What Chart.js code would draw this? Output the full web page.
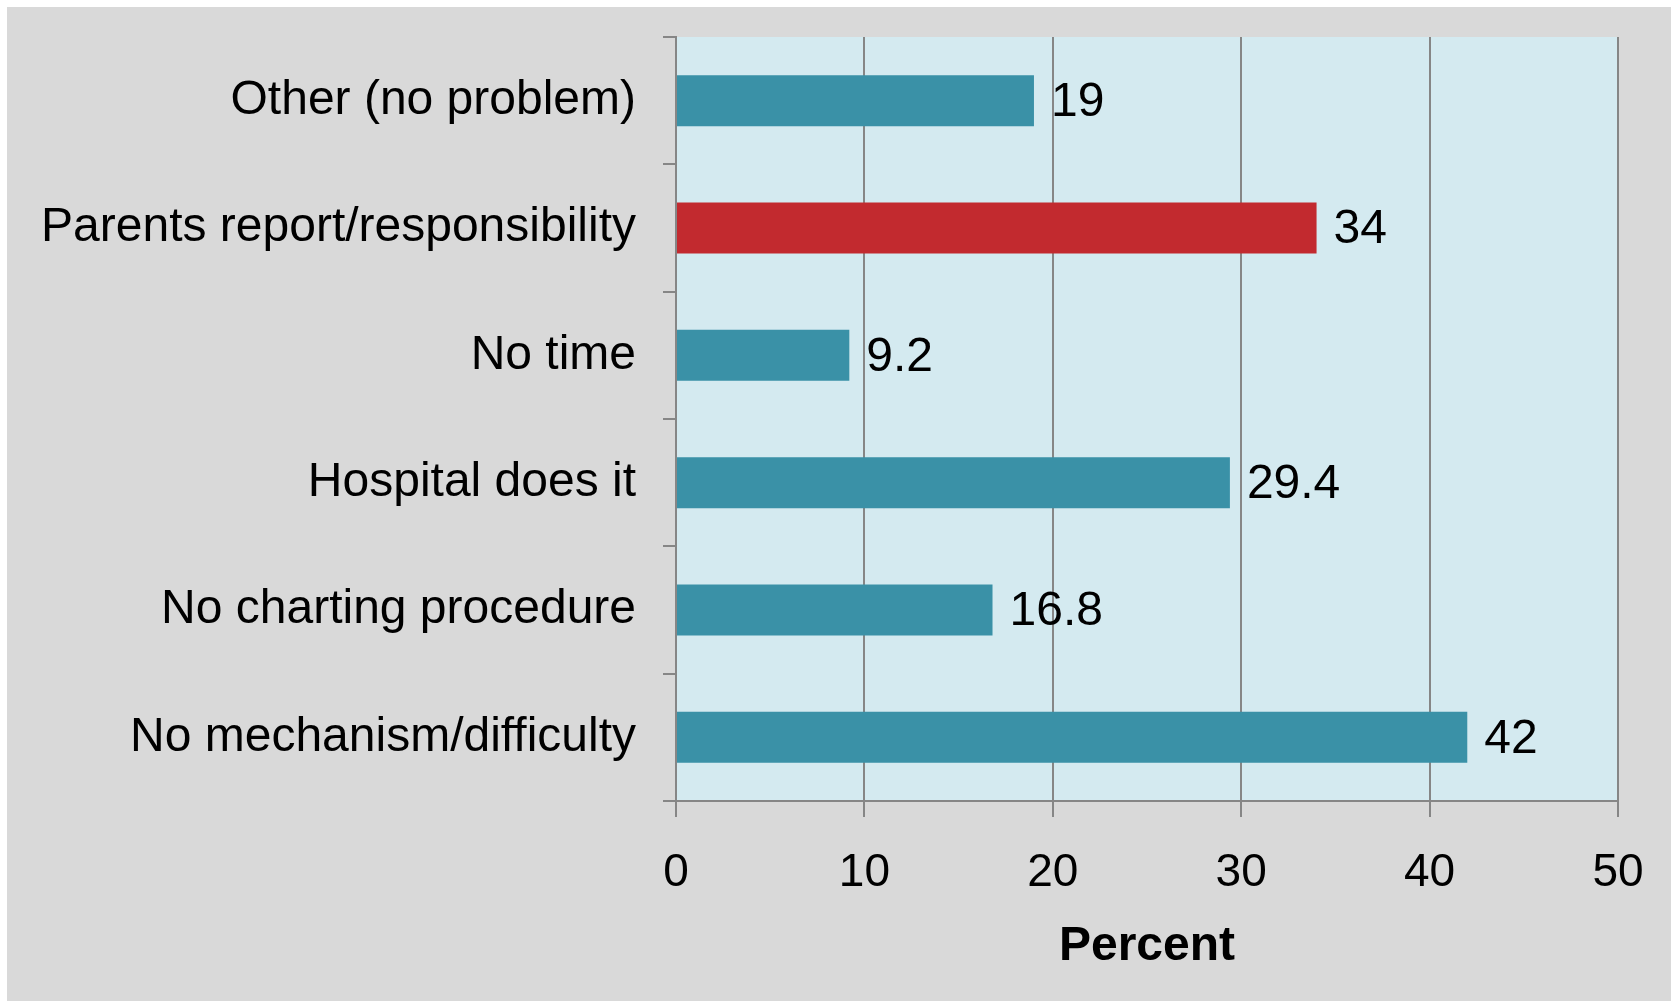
<!DOCTYPE html>
<html>
<head>
<meta charset="utf-8">
<script src="https://cdn.jsdelivr.net/npm/chart.js@4/dist/chart.umd.min.js"></script>
<style>
  html, body { margin: 0; padding: 0; background: #ffffff; }
  #wrap { position: absolute; left: 7px; top: 7px; width: 1664px; height: 994px; background: #d9d9d9; }
</style>
</head>
<body>
<div id="wrap"><canvas id="barChart" width="1664" height="994"></canvas></div>
<script>
const categories = [
    'Other (no problem)',
    'Parents report/responsibility',
    'No time',
    'Hospital does it',
    'No charting procedure',
    'No mechanism/difficulty'
];
const percentValues = [19, 34, 9.2, 29.4, 16.8, 42];
const highlightIndex = 1;
const xTicks = [0, 10, 20, 30, 40, 50];

document.addEventListener("DOMContentLoaded", function () {

    const canvas = document.getElementById('barChart');
    const ctx = canvas.getContext('2d');

    const barColors = percentValues.map((v, i) => i === highlightIndex ? '#c22a2f' : '#3a91a7');

    // light blue plot background
    const plotBg = {
        id: 'plotBg',
        beforeDraw(chart) {
            const a = chart.chartArea;
            chart.ctx.save();
            chart.ctx.fillStyle = '#d4eaf0';
            chart.ctx.fillRect(a.left, a.top, a.right - a.left, a.bottom - a.top);
            chart.ctx.restore();
        }
    };

    // value labels at the end of each bar
    const valueLabels = {
        id: 'valueLabels',
        afterDatasetsDraw(chart) {
            const c = chart.ctx;
            const meta = chart.getDatasetMeta(0);
            c.save();
            c.font = '48px "Liberation Sans", Arial, sans-serif';
            c.fillStyle = '#000000';
            c.textAlign = 'left';
            c.textBaseline = 'middle';
            meta.data.forEach((bar, i) => {
                c.fillText(String(percentValues[i]), bar.x + 17, bar.y + 2);
            });
            c.restore();
        }
    };

    new Chart(ctx, {
        type: 'bar',
        data: {
            labels: categories,
            datasets: [{
                data: percentValues,
                backgroundColor: barColors,
                borderWidth: 0,
                barPercentage: 0.4,
                categoryPercentage: 1.0
            }]
        },
        options: {
            indexAxis: 'y',
            responsive: false,
            animation: false,
            layout: {
                padding: { top: 30, right: 53, bottom: 0, left: 0 }
            },
            plugins: {
                legend: { display: false },
                tooltip: { enabled: false }
            },
            scales: {
                x: {
                    min: 0,
                    max: 50,
                    afterBuildTicks(scale) {
                        scale.ticks = xTicks.map(v => ({ value: v }));
                    },
                    afterFit(scale) {
                        scale.height = 200;
                        scale.paddingLeft = 0;
                        scale.paddingRight = 0;
                    },
                    grid: {
                        color: '#868686',
                        lineWidth: 2,
                        tickLength: 16,
                        drawOnChartArea: true
                    },
                    border: { display: true, color: '#868686', width: 2 },
                    ticks: {
                        color: '#000000',
                        padding: 29,
                        font: { family: '"Liberation Sans", Arial, sans-serif', size: 46 }
                    },
                    title: {
                        display: true,
                        text: 'Percent',
                        color: '#000000',
                        padding: { top: 0, bottom: 25 },
                        font: { family: '"Liberation Sans", Arial, sans-serif', size: 48, weight: 'bold' }
                    }
                },
                y: {
                    afterFit(scale) {
                        scale.width = 669;
                        scale.paddingTop = 0;
                        scale.paddingBottom = 0;
                    },
                    offset: true,
                    grid: {
                        offset: true,
                        color: '#868686',
                        lineWidth: 2,
                        tickLength: 13,
                        drawOnChartArea: false
                    },
                    border: { display: true, color: '#868686', width: 2 },
                    ticks: {
                        color: '#000000',
                        padding: 27,
                        font: { family: '"Liberation Sans", Arial, sans-serif', size: 48 }
                    }
                }
            }
        },
        plugins: [plotBg, valueLabels]
    });

});
</script>
</body>
</html>
